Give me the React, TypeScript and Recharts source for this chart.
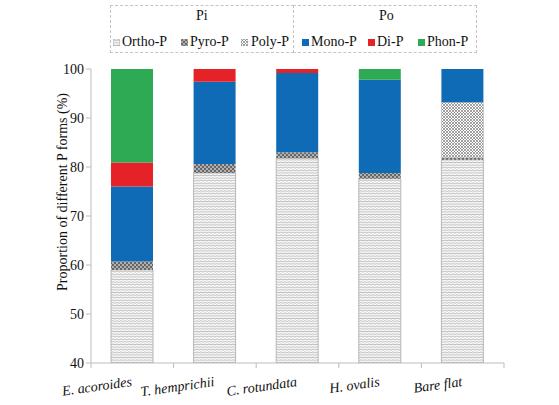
import { BarChart, Bar, XAxis, YAxis } from 'recharts';

const sites = ['E. acoroides', 'T. hemprichii', 'C. rotundata', 'H. ovalis', 'Bare flat'];
const orthoP = [59.0, 78.8, 81.8, 77.6, 81.5];
const pyroP = [1.7, 1.8, 1.2, 1.2, 0.4];
const polyP = [0, 0, 0, 0, 11.3];
const monoP = [15.3, 16.8, 16.2, 19.0, 6.8];
const diP = [4.9, 2.6, 0.8, 0, 0];
const phonP = [19.1, 0, 0, 2.2, 0];
const yTicks = [40, 50, 60, 70, 80, 90, 100];

const FONT = 'Liberation Serif, Times New Roman, Times, DejaVu Serif, serif';
const AXIS_GREY = '#bdbdbd';

const data = sites.map((site, i) => ({
  site,
  ortho: orthoP[i],
  pyro: pyroP[i],
  poly: polyP[i],
  mono: monoP[i],
  di: diP[i],
  phon: phonP[i],
}));

const legendItems = [
  { name: 'Ortho-P', fill: 'url(#pat-ortho)', left: 113, textLeft: 122 },
  { name: 'Pyro-P', fill: 'url(#pat-pyro)', left: 181, textLeft: 190 },
  { name: 'Poly-P', fill: 'url(#pat-poly)', left: 241, textLeft: 251 },
  { name: 'Mono-P', fill: '#106bb6', left: 302, textLeft: 311 },
  { name: 'Di-P', fill: '#e42228', left: 368, textLeft: 377 },
  { name: 'Phon-P', fill: '#2eaa55', left: 418, textLeft: 427 },
];

function Patterns() {
  return (
    <svg width={0} height={0} style={{ position: 'absolute' }}>
      <defs>
        <pattern id="pat-ortho" width={4} height={2.6} patternUnits="userSpaceOnUse">
          <rect width={4} height={2.6} fill="#ffffff" />
          <path d="M0,1.3 Q1,0.2 2,1.3 T4,1.3" stroke="#7a7a7a" strokeWidth={0.6} fill="none" />
        </pattern>
        <pattern id="pat-pyro" width={4} height={4} patternUnits="userSpaceOnUse">
          <rect width={4} height={4} fill="#b0b0b0" />
          <rect width={2} height={2} fill="#666666" />
          <rect x={2} y={2} width={2} height={2} fill="#666666" />
        </pattern>
        <pattern id="pat-poly" width={3} height={3} patternUnits="userSpaceOnUse">
          <rect width={3} height={3} fill="#ffffff" />
          <path d="M0,0 L3,3 M3,0 L0,3" stroke="#7a7a7a" strokeWidth={0.7} />
        </pattern>
      </defs>
    </svg>
  );
}

function SiteTick(props: any) {
  const { x, y, payload, index, visibleTicksCount } = props;
  const half = payload && payload.offset ? payload.offset : 41;
  const ty = y + 15;
  return (
    <g>
      <line x1={x - half} y1={y - 8} x2={x - half} y2={y - 3} stroke={AXIS_GREY} />
      {index === visibleTicksCount - 1 && (
        <line x1={x + half} y1={y - 8} x2={x + half} y2={y - 3} stroke={AXIS_GREY} />
      )}
      <text
        x={x}
        y={ty}
        textAnchor="end"
        style={{ fontFamily: FONT, fontStyle: 'italic', fontSize: 14 }}
        fill="#111"
        transform={`rotate(-8, ${x}, ${ty})`}
      >
        {payload.value}
      </text>
    </g>
  );
}

function YLabel(props: any) {
  const { viewBox } = props;
  const cx = 62;
  const cy = viewBox.y + viewBox.height / 2 - 24;
  return (
    <text
      x={cx}
      y={cy}
      textAnchor="middle"
      dominantBaseline="central"
      style={{ fontFamily: FONT, fontSize: 14 }}
      fill="#111"
      transform={`rotate(-90, ${cx}, ${cy})`}
    >
      Proportion of different P forms (%)
    </text>
  );
}

function Legend() {
  const box = {
    position: 'absolute' as const,
    top: 5,
    height: 48,
    border: '1px dashed #c4c4c4',
    boxSizing: 'border-box' as const,
  };
  const head = {
    position: 'absolute' as const,
    top: 8,
    fontFamily: FONT,
    fontSize: 14,
    color: '#111',
    lineHeight: '16px',
  };
  return (
    <>
      <div style={{ ...box, left: 110, width: 184 }} />
      <div style={{ ...box, left: 293, width: 184 }} />
      <div style={{ ...head, left: 196 }}>Pi</div>
      <div style={{ ...head, left: 379 }}>Po</div>
      {legendItems.map((it) => (
        <div key={it.name}>
          <svg
            width={7}
            height={7}
            style={{ position: 'absolute', left: it.left, top: 39 }}
          >
            <rect width={7} height={7} fill={it.fill} stroke={it.fill.startsWith('url') ? '#999' : 'none'} strokeWidth={0.6} />
          </svg>
          <div
            style={{
              position: 'absolute',
              left: it.textLeft,
              top: 34,
              fontFamily: FONT,
              fontSize: 14,
              color: '#111',
              lineHeight: '16px',
              whiteSpace: 'nowrap',
            }}
          >
            {it.name}
          </div>
        </div>
      ))}
    </>
  );
}

export default function App() {
  return (
    <div style={{ position: 'absolute', left: 0, top: 0, width: 559, height: 405, background: '#fff', fontFamily: FONT }}>
      <Patterns />
      <BarChart
        width={559}
        height={405}
        data={data}
        margin={{ top: 69, right: 55, bottom: 0, left: 0 }}
        barSize={42}
      >
        <XAxis
          dataKey="site"
          height={42}
          axisLine={{ stroke: AXIS_GREY }}
          tickLine={false}
          tick={<SiteTick />}
          interval={0}
        />
        <YAxis
          width={91}
          domain={[40, 100]}
          ticks={yTicks}
          allowDataOverflow
          axisLine={{ stroke: AXIS_GREY }}
          tickLine={{ stroke: AXIS_GREY }}
          tickSize={5}
          tick={{ fontFamily: FONT, fontSize: 14, fill: '#111' }}
          label={<YLabel />}
        />
        <Bar dataKey="ortho" stackId="p" fill="url(#pat-ortho)" stroke="#a8a8a8" strokeWidth={0.8} isAnimationActive={false} />
        <Bar dataKey="pyro" stackId="p" fill="url(#pat-pyro)" isAnimationActive={false} />
        <Bar dataKey="poly" stackId="p" fill="url(#pat-poly)" stroke="#a8a8a8" strokeWidth={0.5} isAnimationActive={false} />
        <Bar dataKey="mono" stackId="p" fill="#106bb6" isAnimationActive={false} />
        <Bar dataKey="di" stackId="p" fill="#e42228" isAnimationActive={false} />
        <Bar dataKey="phon" stackId="p" fill="#2eaa55" isAnimationActive={false} />
      </BarChart>
      <Legend />
    </div>
  );
}
